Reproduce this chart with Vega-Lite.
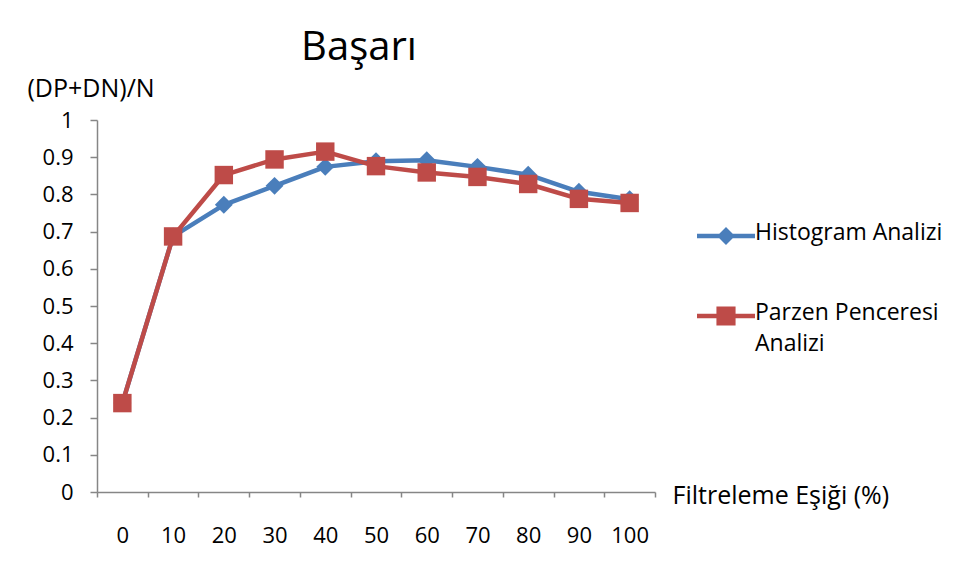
{
  "$schema": "https://vega.github.io/schema/vega-lite/v6.json",
  "width": 558,
  "height": 372,
  "autosize": {"type": "none"},
  "padding": {"left": 97, "top": 120, "right": 310, "bottom": 88},
  "background": "white",
  "config": {
    "view": {"stroke": null},
    "font": "Open Sans",
    "axis": {
      "domainColor": "#868686",
      "tickColor": "#868686",
      "domainWidth": 1.5,
      "tickWidth": 1.5,
      "labelColor": "#000000",
      "labelFont": "Open Sans",
      "labelFontSize": 22,
      "titleFont": "Open Sans",
      "titleFontSize": 25,
      "titleFontWeight": "normal",
      "titleColor": "#000000",
      "grid": false
    },
    "legend": {
      "labelFont": "Open Sans",
      "labelFontSize": 23,
      "labelColor": "#000000"
    }
  },
  "title": {
    "text": "Başarı",
    "font": "Open Sans",
    "fontSize": 40,
    "fontWeight": "normal",
    "color": "#000000",
    "anchor": "middle",
    "baseline": "alphabetic",
    "offset": -24,
    "dx": -17
  },
  "data": {
    "values": [
      {"esik": 0, "seri": "Histogram Analizi", "deger": 0.239},
      {"esik": 10, "seri": "Histogram Analizi", "deger": 0.687},
      {"esik": 20, "seri": "Histogram Analizi", "deger": 0.772},
      {"esik": 30, "seri": "Histogram Analizi", "deger": 0.823},
      {"esik": 40, "seri": "Histogram Analizi", "deger": 0.874},
      {"esik": 50, "seri": "Histogram Analizi", "deger": 0.889},
      {"esik": 60, "seri": "Histogram Analizi", "deger": 0.892},
      {"esik": 70, "seri": "Histogram Analizi", "deger": 0.874},
      {"esik": 80, "seri": "Histogram Analizi", "deger": 0.853},
      {"esik": 90, "seri": "Histogram Analizi", "deger": 0.807},
      {"esik": 100, "seri": "Histogram Analizi", "deger": 0.787},
      {"esik": 0, "seri": "Parzen Penceresi Analizi", "deger": 0.239},
      {"esik": 10, "seri": "Parzen Penceresi Analizi", "deger": 0.687},
      {"esik": 20, "seri": "Parzen Penceresi Analizi", "deger": 0.852},
      {"esik": 30, "seri": "Parzen Penceresi Analizi", "deger": 0.894},
      {"esik": 40, "seri": "Parzen Penceresi Analizi", "deger": 0.915},
      {"esik": 50, "seri": "Parzen Penceresi Analizi", "deger": 0.876},
      {"esik": 60, "seri": "Parzen Penceresi Analizi", "deger": 0.859},
      {"esik": 70, "seri": "Parzen Penceresi Analizi", "deger": 0.847},
      {"esik": 80, "seri": "Parzen Penceresi Analizi", "deger": 0.828},
      {"esik": 90, "seri": "Parzen Penceresi Analizi", "deger": 0.788},
      {"esik": 100, "seri": "Parzen Penceresi Analizi", "deger": 0.777}
    ]
  },
  "encoding": {
    "x": {
      "field": "esik",
      "type": "ordinal",
      "bandPosition": 0.5,
      "scale": {"type": "band", "paddingInner": 0, "paddingOuter": 0},
      "axis": {
        "labelAngle": 0,
        "tickBand": "extent",
        "tickSize": 5,
        "labelBaseline": "alphabetic",
        "labelPadding": 45,
        "title": "Filtreleme Eşiği (%)",
        "titleAngle": 0,
        "titleAlign": "left",
        "titleBaseline": "alphabetic",
        "titleX": 575,
        "titleY": 11
      }
    },
    "y": {
      "field": "deger",
      "type": "quantitative",
      "scale": {"domain": [0, 1], "nice": false, "zero": true},
      "axis": {
        "values": [0, 0.1, 0.2, 0.3, 0.4, 0.5, 0.6, 0.7, 0.8, 0.9, 1],
        "format": ".1~f",
        "tickSize": 7,
        "labelPadding": 17,
        "title": "(DP+DN)/N",
        "titleAngle": 0,
        "titleAlign": "left",
        "titleBaseline": "alphabetic",
        "titleX": -70,
        "titleY": -24
      }
    }
  },
  "layer": [
    {
      "mark": {"type": "line", "strokeWidth": 4.5, "strokeCap": "round", "strokeJoin": "round"},
      "encoding": {
        "color": {
          "field": "seri",
          "type": "nominal",
          "scale": {"domain": ["Histogram Analizi", "Parzen Penceresi Analizi"], "range": ["#4A7EBB", "#BE4B48"]},
          "legend": {
            "title": null,
            "orient": "none",
            "legendX": 600,
            "legendY": 87,
            "symbolSize": 3364,
            "symbolType": "M-1,-0.078L1,-0.078L1,0.078L-1,0.078Z",
            "labelOffset": 0,
            "rowPadding": 42,
            "labelBaseline": "top",
            "labelLimit": 400,
            "labelExpr": "datum.label == 'Parzen Penceresi Analizi' ? ['Parzen Penceresi', 'Analizi'] : datum.label",
            "encode": {
              "symbols": {
                "update": {
                  "shape": {"signal": "datum.value == 'Histogram Analizi' ? 'M-1,-0.078L1,-0.078L1,0.078L-1,0.078Z M0,-0.31L0.31,0L0,0.31L-0.31,0Z' : 'M-1,-0.078L1,-0.078L1,0.078L-1,0.078Z M-0.33,-0.33L0.33,-0.33L0.33,0.33L-0.33,0.33Z'"},
                  "fill": {"signal": "datum.value == 'Histogram Analizi' ? '#4A7EBB' : '#BE4B48'"},
                  "fillOpacity": {"value": 1},
                  "stroke": {"value": "transparent"},
                  "strokeWidth": {"value": 0}
                }
              },
              "labels": {
                "update": {
                  "dy": {"value": -14},
                  "lineHeight": {"value": 31}
                }
              }
            }
          }
        }
      }
    },
    {
      "transform": [{"filter": "datum.seri == 'Histogram Analizi'"}],
      "mark": {"type": "point", "shape": "diamond", "filled": true, "opacity": 1, "size": 320, "color": "#4A7EBB"}
    },
    {
      "transform": [{"filter": "datum.seri == 'Parzen Penceresi Analizi'"}],
      "mark": {"type": "point", "shape": "square", "filled": true, "opacity": 1, "size": 340, "color": "#BE4B48"}
    }
  ]
}
